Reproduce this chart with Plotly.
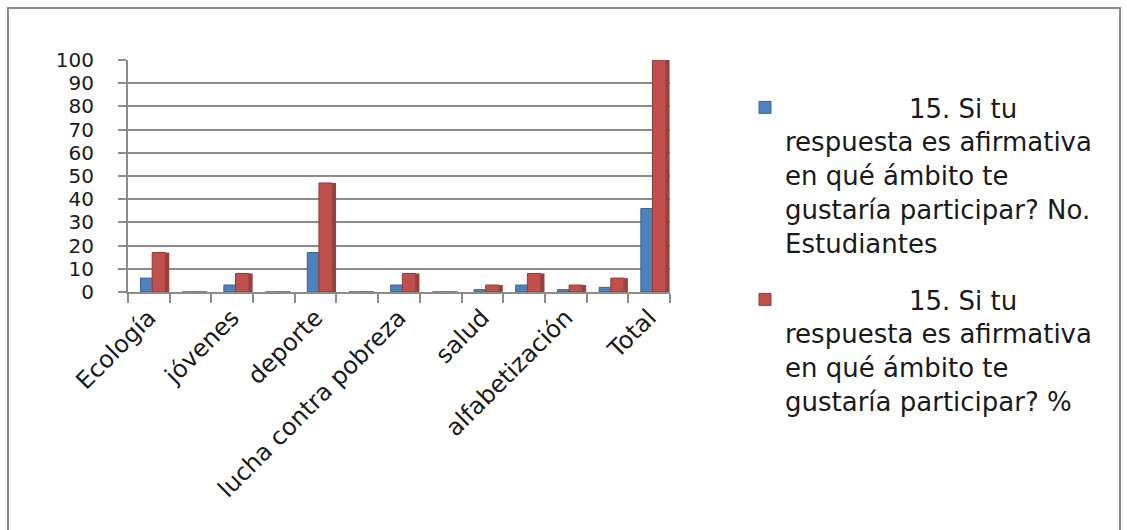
import plotly.graph_objects as go

categories = ["Ecología", "", "jóvenes", "", "deporte", "", "lucha contra pobreza",
              "", "salud", "", "alfabetización", "", "Total"]
estudiantes = [6, 0, 3, 0, 17, 0, 3, 0, 1, 3, 1, 2, 36]
porcentaje = [17, 0, 8, 0, 47, 0, 8, 0, 3, 8, 3, 6, 100]
y_ticks = list(range(0, 101, 10))

PAD = "\u00a0" * 15
name_a = (PAD + "15. Si tu<br>respuesta es afirmativa<br>en qué ámbito te"
          "<br>gustaría participar? No.<br>Estudiantes")
name_b = (PAD + "15. Si tu<br>respuesta es afirmativa<br>en qué ámbito te"
          "<br>gustaría participar? %")

idx = list(range(len(categories)))
label_idx = [i for i, c in enumerate(categories) if c]
label_txt = [categories[i] for i in label_idx]

FONT = "DejaVu Sans, sans-serif"
fig = go.Figure()
fig.add_bar(x=idx, y=estudiantes, name=name_a, legendgroup="a",
            offset=-0.2, width=0.29,
            marker=dict(color="#4F81BD", line=dict(color="#3A6496", width=1)))
fig.add_bar(x=idx, y=porcentaje, name=name_b, legendgroup="b",
            offset=0.08, width=0.32,
            marker=dict(color="#C0504D", line=dict(color="#8E3B39", width=1)))
# darker right-hand side faces give the red bars their 3-D look
fig.add_bar(x=idx, y=porcentaje, showlegend=False, hoverinfo="skip",
            legendgroup="c", offset=0.40, width=0.09,
            marker=dict(color="#9A3F3C", line=dict(width=0)))

L, T = 128, 60
W, H = 1127, 530
pw, ph = 542, 232
R = W - L - pw
B = H - T - ph

def px_x(p):
    return (p - L) / pw

def px_y(p):
    return (H - B - p) / ph

fig.update_layout(
    width=W, height=H,
    margin=dict(l=L, r=R, t=T, b=B),
    paper_bgcolor="white", plot_bgcolor="white",
    font=dict(family=FONT, size=22, color="#1a1a1a"),
    barmode="overlay",
    showlegend=True,
    legend=dict(x=px_x(745), y=px_y(84), xanchor="left", yanchor="top",
                font=dict(size=26, family=FONT), valign="top",
                tracegroupgap=20, maxheight=500, traceorder="grouped",
                bgcolor="rgba(0,0,0,0)"),
    xaxis=dict(range=[-0.5, 12.5], tickmode="array", tickvals=label_idx,
               ticktext=label_txt, tickangle=-45, ticks="",
               showgrid=False, zeroline=False, showline=True,
               linecolor="#8c8c8c", linewidth=2,
               tickfont=dict(size=24, family=FONT),
               minor=dict(tickmode="array", tickvals=[i - 0.5 for i in range(14)],
                          ticks="outside", ticklen=9, tickcolor="#8c8c8c",
                          tickwidth=2, showgrid=False)),
    yaxis=dict(range=[0, 100], tickmode="array", tickvals=y_ticks,
               ticks="outside", ticklen=8, tickcolor="#8c8c8c", tickwidth=2,
               ticklabelstandoff=20,
               showgrid=True, gridcolor="#8c8c8c", gridwidth=2,
               zeroline=False, showline=True, linecolor="#8c8c8c", linewidth=2,
               tickfont=dict(size=20, family=FONT)),
    shapes=[dict(type="rect", xref="paper", yref="paper",
                 x0=px_x(8), x1=px_x(1120), y0=px_y(560), y1=px_y(8),
                 line=dict(color="#8c8c8c", width=2), layer="below")],
)

fig.write_html("out.html", config={"displayModeBar": False},
               post_script="document.body.style.margin='0';")
